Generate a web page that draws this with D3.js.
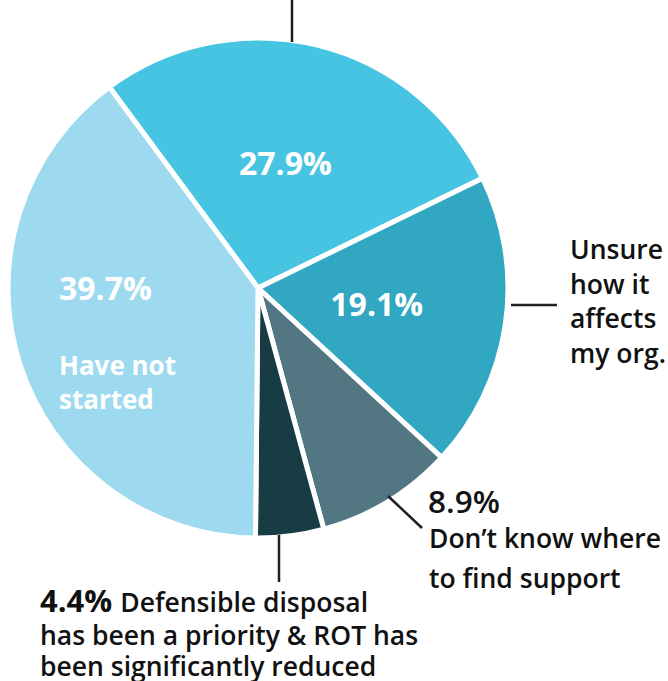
<!DOCTYPE html>
<html>
<head>
<meta charset="utf-8">
<script src="https://cdn.jsdelivr.net/npm/d3@7"></script>
<style>
  html, body { margin: 0; padding: 0; background: #fff; }
  svg { display: block; font-family: "Open Sans", "Noto Sans", sans-serif; }
</style>
</head>
<body>
<svg id="chart" width="668" height="681"></svg>
<script>
// Survey responses, in drawing order clockwise from the top-left
const categories = [
  "Started",
  "Unsure how it affects my org.",
  "Don’t know where to find support",
  "Defensible disposal has been a priority & ROT has been significantly reduced",
  "Have not started"
];
const values = [27.9, 19.1, 8.9, 4.4, 39.7];
const colors = ["#46c4e1", "#31a7c1", "#527682", "#173c44", "#9ddaf0"];

const svg = d3.select("#chart");
const cx = 258, cy = 288, radius = 250;
const deg = Math.PI / 180;

const pie = d3.pie().sort(null).startAngle(-36.5 * deg).endAngle(323.5 * deg);
const arcs = pie(values);
const arc = d3.arc().innerRadius(0).outerRadius(radius);

const g = svg.append("g").attr("transform", `translate(${cx},${cy})`);

g.selectAll("path.slice")
  .data(arcs)
  .join("path")
  .attr("class", "slice")
  .attr("d", arc)
  .attr("fill", (d, i) => colors[i])
  .attr("stroke", "#fff")
  .attr("stroke-width", 5)
  .attr("stroke-linejoin", "miter");

const fmt = v => v.toFixed(1) + "%";

// Value labels inside the two upper-right slices
const inner = [
  { i: 0, r: 128, dx: -3 },
  { i: 1, r: 120, dx: 0 }
];
inner.forEach(({ i, r, dx }) => {
  const [x, y] = d3.arc().innerRadius(r).outerRadius(r).centroid(arcs[i]);
  g.append("text")
    .attr("x", x + dx).attr("y", y + 11)
    .attr("text-anchor", "middle")
    .attr("fill", "#fff")
    .attr("font-size", 32)
    .attr("font-weight", 700)
    .text(fmt(values[i]));
});

// Label block in the large left slice
const left = svg.append("g").attr("fill", "#fff").attr("font-weight", 700);
left.append("text").attr("x", 59).attr("y", 300).attr("font-size", 32).text(fmt(values[4]));
left.append("text").attr("x", 59).attr("y", 375).attr("font-size", 26).text("Have not");
left.append("text").attr("x", 59).attr("y", 409).attr("font-size", 26).text("started");

// Leader lines
const leaders = svg.append("g").attr("stroke", "#231f20").attr("stroke-width", 2.5).attr("fill", "none");
leaders.append("line").attr("x1", 292).attr("y1", 0).attr("x2", 292).attr("y2", 42);
leaders.append("line").attr("x1", 511).attr("y1", 305).attr("x2", 557).attr("y2", 305);
leaders.append("line").attr("x1", 388).attr("y1", 496).attr("x2", 422).attr("y2", 528);
leaders.append("line").attr("x1", 279).attr("y1", 535).attr("x2", 279).attr("y2", 582);

const ink = "#111";

// Right-hand annotation
const unsure = svg.append("text").attr("fill", ink).attr("font-size", 26.5).attr("font-weight", 600);
["Unsure", "how it", "affects", "my org."].forEach((t, k) => {
  unsure.append("tspan").attr("x", 570).attr("y", 259 + k * 34.5).text(t);
});

// Lower-right annotation
svg.append("text").attr("x", 428).attr("y", 513).attr("fill", ink)
  .attr("font-size", 31.5).attr("font-weight", 600).text(fmt(values[2]));
svg.append("text").attr("x", 429).attr("y", 548).attr("fill", ink)
  .attr("font-size", 26.5).attr("font-weight", 600).text("Don’t know where");
svg.append("text").attr("x", 429).attr("y", 588).attr("fill", ink)
  .attr("font-size", 26.5).attr("font-weight", 600).text("to find support");

// Bottom annotation
const bottom = svg.append("text").attr("fill", ink).attr("font-weight", 600).attr("font-size", 26.5);
bottom.append("tspan").attr("x", 40).attr("y", 612).attr("font-size", 31).attr("font-weight", 700).text(fmt(values[3]));
bottom.append("tspan").attr("dx", 8).text("Defensible disposal");
bottom.append("tspan").attr("x", 40).attr("y", 645).text("has been a priority & ROT has");
bottom.append("tspan").attr("x", 40).attr("y", 676).text("been significantly reduced");
</script>
</body>
</html>
